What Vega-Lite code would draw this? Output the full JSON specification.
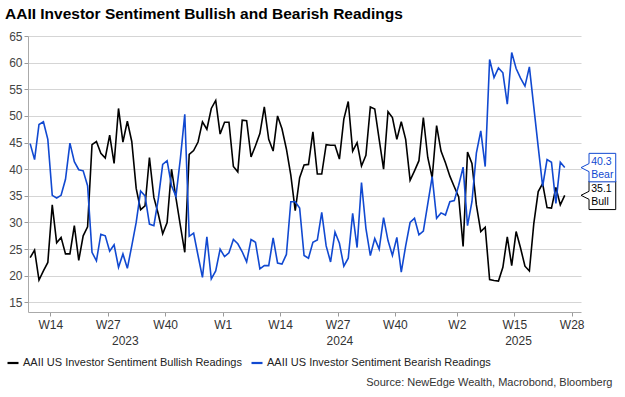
{
  "$schema": "https://vega.github.io/schema/vega-lite/v6.json",
  "width": 553,
  "height": 276,
  "autosize": {"type": "none"},
  "padding": {"left": 28, "top": 36, "right": 44, "bottom": 85},
  "background": "white",
  "config": {
    "view": {"stroke": null},
    "font": "Liberation Sans",
    "axis": {"labelFont": "Liberation Sans", "titleFont": "Liberation Sans"},
    "legend": {"labelFont": "Liberation Sans"}
  },
  "title": {
    "text": "AAII Investor Sentiment Bullish and Bearish Readings",
    "anchor": "start",
    "frame": "group",
    "dx": -23,
    "offset": 8,
    "fontSize": 15.5,
    "fontWeight": "bold",
    "color": "#000000"
  },
  "datasets": {
    "aaii": [
      {"date": "2023-03-02", "Bull": 23.4, "Bear": 44.8},
      {"date": "2023-03-09", "Bull": 24.8, "Bear": 41.8},
      {"date": "2023-03-16", "Bull": 19.2, "Bear": 48.4},
      {"date": "2023-03-23", "Bull": 20.9, "Bear": 48.9},
      {"date": "2023-03-30", "Bull": 22.5, "Bear": 45.6},
      {"date": "2023-04-06", "Bull": 33.3, "Bear": 35.1},
      {"date": "2023-04-13", "Bull": 26.2, "Bear": 34.6},
      {"date": "2023-04-20", "Bull": 27.2, "Bear": 35.1},
      {"date": "2023-04-27", "Bull": 24.1, "Bear": 38.1},
      {"date": "2023-05-04", "Bull": 24.1, "Bear": 44.9},
      {"date": "2023-05-11", "Bull": 29.4, "Bear": 41.4},
      {"date": "2023-05-18", "Bull": 22.9, "Bear": 39.9},
      {"date": "2023-05-25", "Bull": 27.5, "Bear": 39.7},
      {"date": "2023-06-01", "Bull": 29.2, "Bear": 36.9},
      {"date": "2023-06-08", "Bull": 44.6, "Bear": 24.4},
      {"date": "2023-06-15", "Bull": 45.2, "Bear": 22.8},
      {"date": "2023-06-22", "Bull": 43.0, "Bear": 27.8},
      {"date": "2023-06-29", "Bull": 42.1, "Bear": 27.5},
      {"date": "2023-07-06", "Bull": 46.4, "Bear": 24.6},
      {"date": "2023-07-13", "Bull": 41.1, "Bear": 25.8},
      {"date": "2023-07-20", "Bull": 51.4, "Bear": 21.6},
      {"date": "2023-07-27", "Bull": 45.1, "Bear": 24.1},
      {"date": "2023-08-03", "Bull": 49.0, "Bear": 21.4},
      {"date": "2023-08-10", "Bull": 45.2, "Bear": 25.6},
      {"date": "2023-08-17", "Bull": 36.4, "Bear": 30.0},
      {"date": "2023-08-24", "Bull": 32.4, "Bear": 35.9},
      {"date": "2023-08-31", "Bull": 33.1, "Bear": 35.0},
      {"date": "2023-09-07", "Bull": 42.2, "Bear": 29.7},
      {"date": "2023-09-14", "Bull": 34.7, "Bear": 29.4},
      {"date": "2023-09-21", "Bull": 31.6, "Bear": 34.4},
      {"date": "2023-09-28", "Bull": 27.9, "Bear": 40.9},
      {"date": "2023-10-05", "Bull": 30.0, "Bear": 41.6},
      {"date": "2023-10-12", "Bull": 40.0, "Bear": 36.9},
      {"date": "2023-10-19", "Bull": 34.6, "Bear": 34.9},
      {"date": "2023-10-26", "Bull": 29.4, "Bear": 42.0},
      {"date": "2023-11-02", "Bull": 24.4, "Bear": 50.3},
      {"date": "2023-11-09", "Bull": 42.8, "Bear": 27.4},
      {"date": "2023-11-16", "Bull": 43.5, "Bear": 28.0},
      {"date": "2023-11-23", "Bull": 45.1, "Bear": 23.8},
      {"date": "2023-11-30", "Bull": 48.9, "Bear": 19.7},
      {"date": "2023-12-07", "Bull": 47.5, "Bear": 27.3},
      {"date": "2023-12-14", "Bull": 51.4, "Bear": 19.4},
      {"date": "2023-12-21", "Bull": 52.9, "Bear": 20.9},
      {"date": "2023-12-28", "Bull": 46.6, "Bear": 25.0},
      {"date": "2024-01-04", "Bull": 48.8, "Bear": 23.6},
      {"date": "2024-01-11", "Bull": 48.8, "Bear": 24.3},
      {"date": "2024-01-18", "Bull": 40.5, "Bear": 26.8},
      {"date": "2024-01-25", "Bull": 39.5, "Bear": 26.0},
      {"date": "2024-02-01", "Bull": 49.2, "Bear": 24.5},
      {"date": "2024-02-08", "Bull": 49.1, "Bear": 22.6},
      {"date": "2024-02-15", "Bull": 42.3, "Bear": 26.8},
      {"date": "2024-02-22", "Bull": 44.4, "Bear": 26.3},
      {"date": "2024-02-29", "Bull": 46.7, "Bear": 21.3},
      {"date": "2024-03-07", "Bull": 51.7, "Bear": 21.9},
      {"date": "2024-03-14", "Bull": 45.6, "Bear": 21.9},
      {"date": "2024-03-21", "Bull": 43.4, "Bear": 27.1},
      {"date": "2024-03-28", "Bull": 50.0, "Bear": 22.4},
      {"date": "2024-04-04", "Bull": 47.6, "Bear": 22.2},
      {"date": "2024-04-11", "Bull": 43.8, "Bear": 24.0},
      {"date": "2024-04-18", "Bull": 38.9, "Bear": 33.9},
      {"date": "2024-04-25", "Bull": 32.2, "Bear": 33.9},
      {"date": "2024-05-02", "Bull": 38.4, "Bear": 32.7},
      {"date": "2024-05-09", "Bull": 40.8, "Bear": 23.8},
      {"date": "2024-05-16", "Bull": 40.9, "Bear": 23.3},
      {"date": "2024-05-23", "Bull": 47.0, "Bear": 26.3},
      {"date": "2024-05-30", "Bull": 39.1, "Bear": 26.7},
      {"date": "2024-06-06", "Bull": 39.1, "Bear": 31.9},
      {"date": "2024-06-13", "Bull": 44.6, "Bear": 25.6},
      {"date": "2024-06-20", "Bull": 44.5, "Bear": 22.6},
      {"date": "2024-06-27", "Bull": 44.5, "Bear": 28.2},
      {"date": "2024-07-04", "Bull": 41.9, "Bear": 26.1},
      {"date": "2024-07-11", "Bull": 49.4, "Bear": 21.8},
      {"date": "2024-07-18", "Bull": 52.7, "Bear": 23.3},
      {"date": "2024-07-25", "Bull": 43.4, "Bear": 31.7},
      {"date": "2024-08-01", "Bull": 45.0, "Bear": 25.3},
      {"date": "2024-08-08", "Bull": 40.6, "Bear": 37.5},
      {"date": "2024-08-15", "Bull": 42.6, "Bear": 28.9},
      {"date": "2024-08-22", "Bull": 51.7, "Bear": 23.8},
      {"date": "2024-08-29", "Bull": 51.3, "Bear": 27.0},
      {"date": "2024-09-05", "Bull": 45.6, "Bear": 25.0},
      {"date": "2024-09-12", "Bull": 40.0, "Bear": 30.9},
      {"date": "2024-09-19", "Bull": 50.8, "Bear": 26.6},
      {"date": "2024-09-26", "Bull": 49.7, "Bear": 23.8},
      {"date": "2024-10-03", "Bull": 45.6, "Bear": 27.2},
      {"date": "2024-10-10", "Bull": 48.9, "Bear": 20.7},
      {"date": "2024-10-17", "Bull": 45.6, "Bear": 25.6},
      {"date": "2024-10-24", "Bull": 37.9, "Bear": 30.0},
      {"date": "2024-10-31", "Bull": 39.7, "Bear": 30.8},
      {"date": "2024-11-07", "Bull": 41.6, "Bear": 27.7},
      {"date": "2024-11-14", "Bull": 49.7, "Bear": 28.4},
      {"date": "2024-11-21", "Bull": 42.2, "Bear": 33.5},
      {"date": "2024-11-28", "Bull": 38.4, "Bear": 38.6},
      {"date": "2024-12-05", "Bull": 48.2, "Bear": 30.8},
      {"date": "2024-12-12", "Bull": 43.4, "Bear": 31.8},
      {"date": "2024-12-19", "Bull": 41.2, "Bear": 31.4},
      {"date": "2024-12-26", "Bull": 38.7, "Bear": 33.9},
      {"date": "2025-01-02", "Bull": 36.7, "Bear": 34.1},
      {"date": "2025-01-09", "Bull": 34.8, "Bear": 37.0},
      {"date": "2025-01-16", "Bull": 25.5, "Bear": 40.4},
      {"date": "2025-01-23", "Bull": 43.2, "Bear": 29.4},
      {"date": "2025-01-30", "Bull": 41.1, "Bear": 33.9},
      {"date": "2025-02-06", "Bull": 33.3, "Bear": 43.0},
      {"date": "2025-02-13", "Bull": 28.3, "Bear": 47.2},
      {"date": "2025-02-20", "Bull": 29.1, "Bear": 40.5},
      {"date": "2025-02-27", "Bull": 19.3, "Bear": 60.6},
      {"date": "2025-03-06", "Bull": 19.1, "Bear": 57.2},
      {"date": "2025-03-13", "Bull": 19.0, "Bear": 59.0},
      {"date": "2025-03-20", "Bull": 21.6, "Bear": 58.1},
      {"date": "2025-03-27", "Bull": 27.3, "Bear": 52.2},
      {"date": "2025-04-03", "Bull": 21.9, "Bear": 61.9},
      {"date": "2025-04-10", "Bull": 28.3, "Bear": 58.9},
      {"date": "2025-04-17", "Bull": 25.2, "Bear": 57.1},
      {"date": "2025-04-24", "Bull": 21.8, "Bear": 55.6},
      {"date": "2025-05-01", "Bull": 20.9, "Bear": 59.2},
      {"date": "2025-05-08", "Bull": 29.8, "Bear": 51.7},
      {"date": "2025-05-15", "Bull": 35.8, "Bear": 44.2},
      {"date": "2025-05-22", "Bull": 37.3, "Bear": 36.8},
      {"date": "2025-05-29", "Bull": 32.8, "Bear": 41.8},
      {"date": "2025-06-05", "Bull": 32.7, "Bear": 41.3},
      {"date": "2025-06-12", "Bull": 36.6, "Bear": 33.6},
      {"date": "2025-06-19", "Bull": 33.3, "Bear": 41.3},
      {"date": "2025-06-26", "Bull": 35.1, "Bear": 40.3}
    ]
  },
  "data": {"name": "aaii"},
  "transform": [{"fold": ["Bull", "Bear"], "as": ["series", "value"]}],
  "encoding": {
    "y": {
      "field": "value",
      "type": "quantitative",
      "scale": {"domain": [13.2, 65], "nice": false, "zero": false},
      "axis": {
        "title": null,
        "values": [15, 20, 25, 30, 35, 40, 45, 50, 55, 60, 65],
        "labelFontSize": 12,
        "labelColor": "#444444",
        "labelPadding": 2,
        "tickSize": 4,
        "tickColor": "#9a9a9a",
        "domainColor": "#aaaaaa",
        "gridColor": "#d5d5d5",
        "gridWidth": 1.2
      }
    }
  },
  "layer": [
    {
      "mark": {"type": "line", "strokeWidth": 1.6, "interpolate": "linear"},
      "encoding": {
        "x": {
          "field": "date",
          "type": "temporal",
          "scale": {
            "type": "utc",
            "domain": [
              {"year": 2023, "month": 2, "date": 26, "hours": 14, "utc": true},
              {"year": 2025, "month": 7, "date": 21, "hours": 19, "utc": true}
            ]
          },
          "axis": {
            "orient": "bottom",
            "title": null,
            "grid": false,
            "values": [
              {"year": 2023, "month": 4, "date": 3, "utc": true},
              {"year": 2023, "month": 7, "date": 3, "utc": true},
              {"year": 2023, "month": 10, "date": 2, "utc": true},
              {"year": 2024, "month": 1, "date": 1, "utc": true},
              {"year": 2024, "month": 4, "date": 1, "utc": true},
              {"year": 2024, "month": 7, "date": 1, "utc": true},
              {"year": 2024, "month": 9, "date": 30, "utc": true},
              {"year": 2025, "month": 1, "date": 6, "utc": true},
              {"year": 2025, "month": 4, "date": 7, "utc": true},
              {"year": 2025, "month": 7, "date": 7, "utc": true}
            ],
            "labelExpr": "'W' + toNumber(utcFormat(datum.value, '%V'))",
            "labelFontSize": 12,
            "labelColor": "#333333",
            "labelPadding": 3,
            "tickSize": 4,
            "tickColor": "#9a9a9a",
            "domainColor": "#aaaaaa",
            "labelFlush": false,
            "labelOverlap": false
          }
        },
        "color": {
          "field": "series",
          "type": "nominal",
          "scale": {"domain": ["Bull", "Bear"], "range": ["#000000", "#1149d1"]},
          "legend": {
            "title": null,
            "orient": "none",
            "legendX": -22,
            "legendY": 320,
            "direction": "horizontal",
            "symbolType": "stroke",
            "symbolSize": 121,
            "symbolStrokeWidth": 2.2,
            "labelFontSize": 11,
            "labelColor": "#222222",
            "labelLimit": 400,
            "labelOffset": 3,
            "columnPadding": 5,
            "labelExpr": "datum.label == 'Bull' ? 'AAII US Investor Sentiment Bullish Readings' : 'AAII US Investor Sentiment Bearish Readings'"
          }
        }
      }
    },
    {
      "transform": [{"filter": {"field": "date", "equal": {"year": 2025, "month": 6, "date": 26, "utc": true}}}],
      "mark": {
        "type": "point",
        "shape": "M0.326,0L0.486,-0.08L0.486,-0.285L1.02,-0.285L1.02,0.285L0.486,0.285L0.486,0.08Z",
        "size": 10000,
        "filled": false,
        "fill": "#ffffff",
        "fillOpacity": 1,
        "opacity": 1,
        "strokeWidth": 1
      },
      "encoding": {
        "x": {
          "field": "date",
          "type": "temporal",
          "axis": {
            "orient": "bottom",
            "grid": false,
            "ticks": false,
            "domain": false,
            "values": [
              {"year": 2023, "month": 7, "date": 30, "utc": true},
              {"year": 2024, "month": 7, "date": 4, "utc": true},
              {"year": 2025, "month": 4, "date": 13, "utc": true}
            ],
            "labelExpr": "utcFormat(datum.value, '%Y')",
            "labelFontSize": 12,
            "labelColor": "#333333",
            "labelPadding": 23,
            "labelFlush": false,
            "labelOverlap": false,
            "title": "Source: NewEdge Wealth, Macrobond, Bloomberg",
            "titleX": 584,
            "titleY": 73,
            "titleAlign": "right",
            "titleAnchor": "end",
            "titleBaseline": "alphabetic",
            "titleFontSize": 11,
            "titleFontWeight": "normal",
            "titleColor": "#333333"
          }
        },
        "color": {"field": "series", "type": "nominal", "legend": null}
      }
    },
    {
      "transform": [{"filter": {"field": "date", "equal": {"year": 2025, "month": 6, "date": 26, "utc": true}}}],
      "mark": {"type": "text", "align": "left", "baseline": "middle", "dx": 26.5, "dy": -6, "fontSize": 10.5},
      "encoding": {
        "x": {"field": "date", "type": "temporal", "axis": null},
        "text": {"field": "value", "type": "quantitative", "format": ".1f"},
        "color": {"field": "series", "type": "nominal", "legend": null}
      }
    },
    {
      "transform": [{"filter": {"field": "date", "equal": {"year": 2025, "month": 6, "date": 26, "utc": true}}}],
      "mark": {"type": "text", "align": "left", "baseline": "middle", "dx": 26.5, "dy": 7, "fontSize": 10.5},
      "encoding": {
        "x": {"field": "date", "type": "temporal", "axis": null},
        "text": {"field": "series", "type": "nominal"},
        "color": {"field": "series", "type": "nominal", "legend": null}
      }
    }
  ],
  "resolve": {"axis": {"x": "independent"}}
}
